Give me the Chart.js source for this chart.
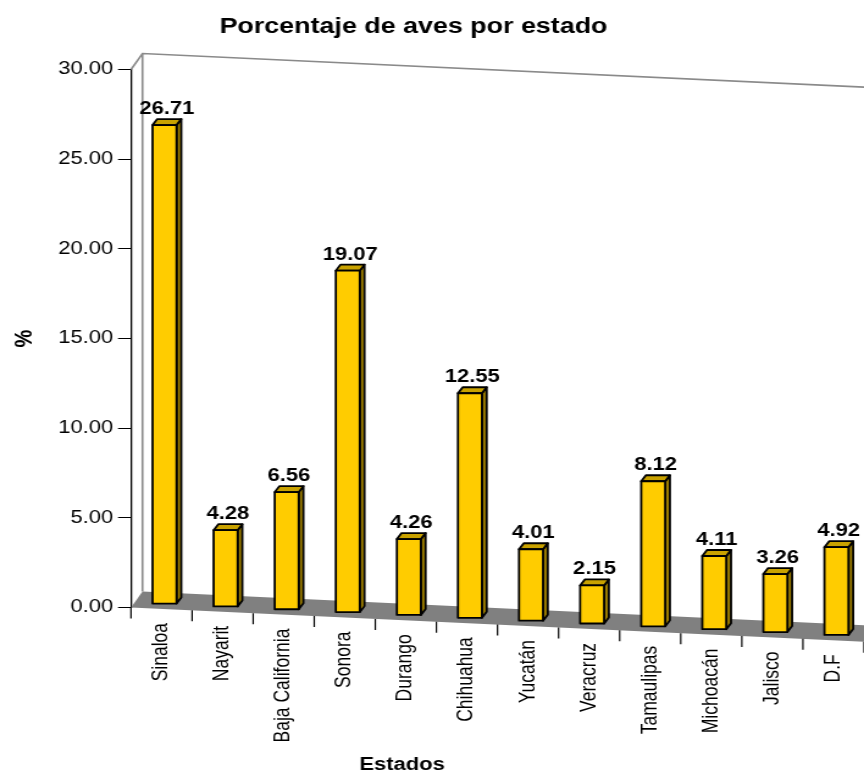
<!DOCTYPE html>
<html>
<head>
<meta charset="utf-8">
<script src="https://cdn.jsdelivr.net/npm/chart.js@4.4.1/dist/chart.umd.min.js"></script>
<style>
  html, body { margin: 0; padding: 0; background: #fff; overflow: hidden; }
  #wrap { width: 864px; height: 771px; overflow: hidden; }
  /* the chart is drawn on a narrower canvas and widened horizontally */
  #c { display: block; transform: scaleX(1.220339); transform-origin: 0 0; }
</style>
</head>
<body>
<div id="wrap"><canvas id="c" width="708" height="771"></canvas></div>
<script>
const estados = ['Sinaloa', 'Nayarit', 'Baja California', 'Sonora', 'Durango', 'Chihuahua',
                 'Yucatán', 'Veracruz', 'Tamaulipas', 'Michoacán', 'Jalisco', 'D.F'];
const porcentajes = [26.71, 4.28, 6.56, 19.07, 4.26, 12.55, 4.01, 2.15, 8.12, 4.11, 3.26, 4.92];
const yTickLabels = ['0.00', '5.00', '10.00', '15.00', '20.00', '25.00', '30.00'];
const chartTitle = 'Porcentaje de aves por estado';
const xTitle = 'Estados';
const yTitle = '%';

const SX = 864 / 708;                       // horizontal widening of the canvas
const FONT = "'Liberation Sans', Arial, Helvetica, sans-serif";
const WALL = { x: 11.5 / SX, y: -16 };      // depth of the back wall / floor
const BAR_DEPTH = { x: 4.7 / SX, y: -6 };   // depth of each 3D bar
const BAR_SET = { x: 3 / SX, y: -5 };       // bars sit slightly back on the floor
const FLOOR_DROP = 2.85;                    // floor drops this many px per category

function catWidth(chart) {
  const xs = chart.scales.x;
  return xs.getPixelForValue(1) - xs.getPixelForValue(0);
}
function tiltOf(chart) { return FLOOR_DROP / catWidth(chart); }

// back wall outline and the sloping grey floor
const floorPlugin = {
  id: 'floor3d',
  beforeDatasetsDraw(chart) {
    const { ctx, chartArea: { left: L, top: T, right: R, bottom: B } } = chart;
    const t = tiltOf(chart);
    const xe = R + 80;
    ctx.save();
    ctx.strokeStyle = '#8a8a8a';
    ctx.lineWidth = 1.6;
    ctx.beginPath();
    ctx.moveTo(L, T);
    ctx.lineTo(L + WALL.x, T + WALL.y);
    ctx.lineTo(xe, T + WALL.y + t * (xe - L - WALL.x));
    ctx.moveTo(L + WALL.x, T + WALL.y);
    ctx.lineTo(L + WALL.x, B + WALL.y);
    ctx.stroke();

    ctx.fillStyle = '#808080';
    ctx.beginPath();
    ctx.moveTo(L, B);
    ctx.lineTo(L + WALL.x, B + WALL.y);
    ctx.lineTo(xe, B + WALL.y + t * (xe - L - WALL.x));
    ctx.lineTo(xe, B + t * (xe - L));
    ctx.closePath();
    ctx.fill();
    ctx.restore();
  }
};

// 3D bars with their value labels
const bar3dPlugin = {
  id: 'bar3d',
  beforeDatasetDraw(chart, args) {
    const { ctx } = chart;
    const L = chart.chartArea.left;
    const t = tiltOf(chart);
    const values = chart.data.datasets[args.index].data;
    ctx.save();
    ctx.lineWidth = 1.8;
    ctx.lineJoin = 'round';
    ctx.strokeStyle = '#000';
    args.meta.data.forEach((el, i) => {
      const { x, y, base, width } = el.getProps(['x', 'y', 'base', 'width'], true);
      const cx = x + BAR_SET.x;
      const bottom = base + t * (cx - L) + BAR_SET.y;
      const top = bottom - (base - y);
      const l = cx - width / 2, r = cx + width / 2;
      const dx = BAR_DEPTH.x, dy = BAR_DEPTH.y;

      // side face
      ctx.fillStyle = '#9c7d00';
      ctx.beginPath();
      ctx.moveTo(r, top); ctx.lineTo(r + dx, top + dy);
      ctx.lineTo(r + dx, bottom + dy); ctx.lineTo(r, bottom);
      ctx.closePath(); ctx.fill(); ctx.stroke();
      // top face
      ctx.fillStyle = '#c9a200';
      ctx.beginPath();
      ctx.moveTo(l, top); ctx.lineTo(l + dx, top + dy);
      ctx.lineTo(r + dx, top + dy); ctx.lineTo(r, top);
      ctx.closePath(); ctx.fill(); ctx.stroke();
      // front face
      ctx.fillStyle = '#ffcc00';
      ctx.beginPath();
      ctx.rect(l, top, width, bottom - top);
      ctx.fill(); ctx.stroke();

      // value label
      ctx.fillStyle = '#000';
      ctx.font = 'bold 18px ' + FONT;
      ctx.textAlign = 'center';
      ctx.textBaseline = 'alphabetic';
      ctx.fillText(values[i].toFixed(2), cx + dx / 2, top - 11);
    });
    ctx.restore();
    return false;
  }
};

// category axis following the floor slope, plus chart and axis titles
const axisPlugin = {
  id: 'slopedAxis',
  afterDraw(chart) {
    const { ctx, chartArea: { left: L, bottom: B } } = chart;
    const xs = chart.scales.x;
    const t = tiltOf(chart);
    const cw = catWidth(chart);
    const n = chart.data.labels.length;
    ctx.save();
    ctx.strokeStyle = '#000';
    ctx.lineWidth = 1.2;
    ctx.beginPath();
    for (let k = 0; k <= n; k++) {
      const xb = xs.getPixelForValue(0) - cw / 2 + k * cw;
      const y0 = B + t * (xb - L);
      ctx.moveTo(xb, y0);
      ctx.lineTo(xb, y0 + 11);
    }
    ctx.stroke();

    ctx.fillStyle = '#000';
    ctx.font = '17.5px ' + FONT;
    chart.data.labels.forEach((lab, i) => {
      const cx = xs.getPixelForValue(i);
      const y = B + t * (cx - L) + 14;
      ctx.save();
      ctx.translate(cx, y);
      ctx.rotate(-Math.PI / 2);
      ctx.textAlign = 'right';
      ctx.textBaseline = 'middle';
      ctx.fillText(lab, 0, 0);
      ctx.restore();
    });

    ctx.textAlign = 'center';
    ctx.textBaseline = 'alphabetic';
    ctx.font = 'bold 22px ' + FONT;
    ctx.fillText(chartTitle, 413.5 / SX, 33.3);
    ctx.font = 'bold 18px ' + FONT;
    ctx.fillText(xTitle, 402 / SX, 770);
    ctx.restore();
  }
};

new Chart(document.getElementById('c'), {
  type: 'bar',
  data: {
    labels: estados,
    datasets: [{
      data: porcentajes,
      backgroundColor: '#ffcc00',
      borderColor: '#000',
      borderWidth: 1.8,
      barThickness: 24 / SX
    }]
  },
  options: {
    responsive: false,
    animation: false,
    devicePixelRatio: 1,
    layout: { padding: { left: 0, right: 0, top: 69.5, bottom: 163.5 } },
    plugins: { legend: { display: false }, tooltip: { enabled: false }, title: { display: false } },
    scales: {
      x: { display: false, offset: true },
      y: {
        min: 0,
        max: 30,
        afterFit(scale) { scale.width = 131 / SX; },
        border: { display: true, color: '#000', width: 1.3 },
        grid: { drawOnChartArea: false, drawTicks: true, tickLength: 13 / SX, color: '#000', lineWidth: 1 },
        ticks: {
          stepSize: 5,
          padding: 4,
          color: '#000',
          font: { family: FONT, size: 18 },
          callback: (v, i) => yTickLabels[i]
        },
        title: {
          display: true,
          text: yTitle,
          color: '#000',
          font: { family: FONT, size: 20, weight: 'bold' },
          padding: { top: 8.5, bottom: 0 }
        }
      }
    }
  },
  plugins: [floorPlugin, bar3dPlugin, axisPlugin]
});
</script>
</body>
</html>
